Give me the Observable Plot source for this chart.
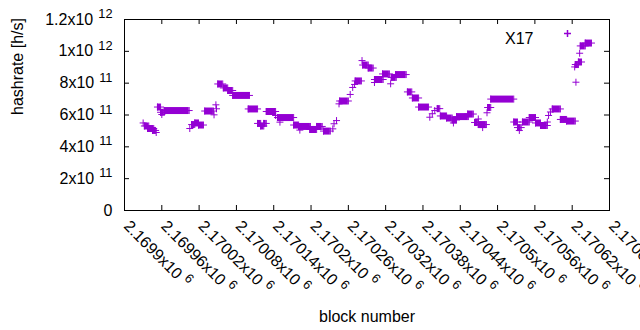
<!DOCTYPE html>
<html><head><meta charset="utf-8">
<script src="https://cdn.jsdelivr.net/npm/d3@7"></script>
<script src="https://cdn.jsdelivr.net/npm/@observablehq/plot@0.6"></script>
<style>body{margin:0;background:#fff}#chart{width:640px;height:330px}</style>
</head><body><div id="chart"></div>
<script>
const seriesName = "X17";
// runs of consecutive blocks sharing (about) the same hashrate
const runStart = [2169930,2169932,2169937,2169945,2169951,2169953,2169958,2169960,2169964,2170005,2170008,2170013,2170019,2170029,2170044,2170047,2170048,2170050,2170059,2170066,2170074,2170099,2170114,2170119,2170124,2170128,2170143,2170146,2170150,2170172,2170182,2170180,2170198,2170209,2170220,2170235,2170237,2170241,2170245,2170246,2170263,2170267,2170270,2170271,2170282,2170283,2170292,2170302,2170302,2170315,2170328,2170329,2170336,2170355,2170363,2170373,2170391,2170395,2170399,2170403,2170408,2170418,2170427,2170429,2170434,2170452,2170463,2170469,2170469,2170476,2170483,2170484,2170489,2170526,2170532,2170535,2170540,2170551,2170561,2170569,2170580,2170582,2170585,2170588,2170601,2170611,2170624,2170626,2170625,2170630,2170632,2170633,2170641];
const runEnd = [2169930,2169939,2169947,2169950,2169951,2169958,2169964,2169960,2170004,2170005,2170013,2170019,2170027,2170043,2170044,2170047,2170048,2170058,2170066,2170074,2170101,2170114,2170119,2170124,2170128,2170143,2170143,2170172,2170150,2170180,2170182,2170199,2170209,2170218,2170231,2170235,2170237,2170241,2170245,2170260,2170263,2170267,2170270,2170281,2170282,2170292,2170300,2170302,2170316,2170326,2170328,2170337,2170353,2170362,2170373,2170389,2170391,2170395,2170399,2170407,2170418,2170427,2170434,2170429,2170453,2170461,2170469,2170469,2170482,2170476,2170483,2170489,2170526,2170532,2170538,2170535,2170551,2170561,2170569,2170580,2170580,2170582,2170585,2170601,2170611,2170625,2170624,2170626,2170630,2170635,2170632,2170641,2170651];
const runValue = [5.50e11,5.31e11,5.15e11,5.03e11,4.90e11,6.50e11,6.17e11,6.03e11,6.28e11,5.15e11,5.40e11,5.50e11,5.37e11,6.25e11,6.01e11,6.64e11,6.39e11,7.95e11,7.70e11,7.54e11,7.23e11,6.38e11,5.47e11,5.31e11,5.47e11,6.22e11,5.97e11,5.84e11,5.55e11,5.37e11,5.05e11,5.28e11,5.09e11,5.28e11,4.99e11,5.13e11,5.45e11,5.65e11,6.70e11,6.88e11,7.29e11,7.73e11,7.92e11,8.14e11,9.42e11,9.14e11,8.95e11,8.04e11,8.23e11,8.58e11,7.96e11,8.36e11,8.54e11,7.45e11,7.07e11,6.50e11,5.86e11,6.08e11,6.28e11,6.40e11,5.94e11,5.81e11,5.69e11,5.50e11,5.90e11,6.06e11,5.53e11,5.75e11,5.40e11,5.21e11,6.14e11,6.47e11,7.00e11,5.56e11,5.21e11,5.03e11,5.56e11,5.84e11,5.50e11,5.34e11,5.56e11,5.97e11,6.19e11,6.38e11,5.72e11,5.62e11,9.02e11,8.06e11,9.17e11,9.33e11,9.88e11,1.034e12,1.052e12];
const xTicks = [2169900,2169960,2170020,2170080,2170140,2170200,2170260,2170320,2170380,2170440,2170500,2170560,2170620,2170680];
const yTicks = [0,2e11,4e11,6e11,8e11,1e12,1.2e12];
const xLabel = "block number";
const yLabel = "hashrate [h/s]";

const color = "#9400d3";
const runs = runStart.map((s, i) => ({start: s, end: runEnd[i], value: runValue[i]}));
const points = runs.flatMap(r => r.start === r.end ? [{b: r.start, v: r.value}] : [{b: r.start, v: r.value}, {b: r.end, v: r.value}]);
const plus = {draw(ctx) { ctx.moveTo(-3.5, 0); ctx.lineTo(3.5, 0); ctx.moveTo(0, -3.5); ctx.lineTo(0, 3.5); }};

const fmtY = d => {
  if (d === 0) return "0";
  const e = Math.floor(Math.log10(d) + 1e-9);
  return (+(d / 10 ** e).toFixed(3)) + "x10^" + e;
};
const fmtX = d => (+(d / 1e6).toFixed(5)) + "x10^6";

const font = "Liberation Sans, Arial, sans-serif";
const chart = Plot.plot({
  width: 640, height: 330,
  marginLeft: 124, marginRight: 31, marginTop: 19, marginBottom: 120,
  x: {domain: [2169900, 2170680]},
  y: {domain: [0, 1.2e12]},
  style: {fontFamily: font, fontSize: "16px", background: "white", color: "black"},
  marks: [
    Plot.ruleY(runs, {x1: "start", x2: "end", y: "value", stroke: color, strokeWidth: 7}),
    Plot.dot(points, {x: "b", y: "v", symbol: plus, stroke: color, fill: "none", strokeWidth: 1, r: 4}),
    Plot.frame({stroke: "black"}),
    Plot.tickX(xTicks, {x: d => d, insetTop: 186, stroke: "black"}),
    Plot.tickX(xTicks, {x: d => d, insetBottom: 186, stroke: "black"}),
    Plot.tickY(yTicks, {y: d => d, insetRight: 480, stroke: "black"}),
    Plot.tickY(yTicks, {y: d => d, insetLeft: 480, stroke: "black"}),
    Plot.axisY(yTicks, {tickFormat: fmtY, tickSize: 0, tickPadding: 12, label: null, fontSize: 16}),
    Plot.axisX(xTicks, {tickFormat: fmtX, tickSize: 0, tickPadding: 13, dx: 2, tickRotate: 45, label: null, fontSize: 16}),
    Plot.text([yLabel], {frameAnchor: "left", dx: -107, rotate: -90, fontSize: 16}),
    Plot.text([xLabel], {frameAnchor: "bottom", dy: 111, fontSize: 16}),
    Plot.text([seriesName], {frameAnchor: "top-right", dx: -76, dy: 13, textAnchor: "end", fontSize: 16}),
    Plot.dot([seriesName], {frameAnchor: "top-right", dx: -42, dy: 14, symbol: plus, stroke: color, fill: "none"})
  ]
});
chart.querySelectorAll("text").forEach(t => {
  if (t.children.length) return;
  const s = t.textContent, i = s.indexOf("^");
  if (i < 0) return;
  t.textContent = s.slice(0, i);
  const ts = document.createElementNS("http://www.w3.org/2000/svg", "tspan");
  ts.setAttribute("dx", "5");
  ts.setAttribute("dy", "-6.5");
  ts.setAttribute("font-size", "12.8");
  ts.textContent = s.slice(i + 1);
  t.appendChild(ts);
});
document.getElementById("chart").appendChild(chart);
</script>
</body></html>
